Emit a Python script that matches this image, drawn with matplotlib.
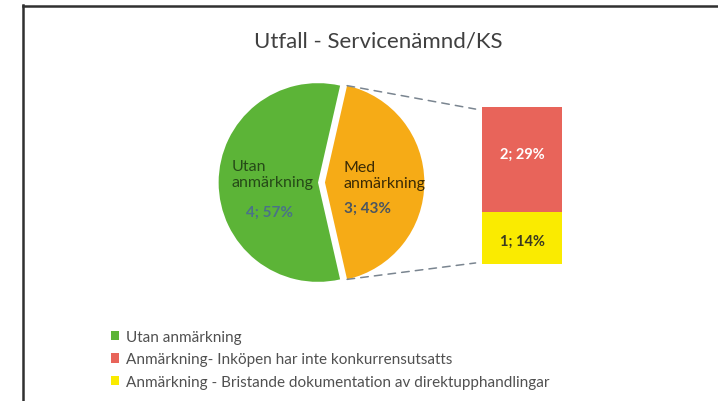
import matplotlib
matplotlib.use("Agg")
import matplotlib.pyplot as plt
import numpy as np
from matplotlib.patches import Patch, ConnectionPatch
from matplotlib.lines import Line2D

plt.rcParams['font.family'] = ['Lato', 'DejaVu Sans']

title = "Utfall - Servicenämnd/KS"
pie_labels = ["Utan\nanmärkning", "Med\nanmärkning"]
pie_values = [4, 3]
bar_values = [2, 1]
legend_labels = ["Utan anmärkning",
                 "Anmärkning- Inköpen har inte konkurrensutsatts",
                 "Anmärkning - Bristande dokumentation av direktupphandlingar"]

c_green = "#5cb437"
c_orange = "#f6ab16"
c_red = "#e8645a"
c_yellow = "#faeb00"

W, H = 718, 402
fig = plt.figure(figsize=(W / 100, H / 100), dpi=100)

def fx(px):
    return px / W

def fy(py):
    return 1 - py / H

total = sum(pie_values)

# Pie axes
R = 103.5
cx, cy = 318, 183.5
span = 1.2
ax = fig.add_axes([fx(cx - span * R), fy(cy + span * R), 2 * span * R / W, 2 * span * R / H])
ax.set_xlim(-span, span)
ax.set_ylim(-span, span)
ax.axis('off')
start = 180.0 * pie_values[1] / total
explode_d = 0.07
wedges, _ = ax.pie(pie_values, colors=[c_green, c_orange], startangle=start,
                   explode=[0, explode_d], radius=1, center=(0, 0),
                   wedgeprops=dict(linewidth=0))

def lbl(v):
    return f"{v}; {round(100 * v / total)}%"

ax.text(-0.87, 0.082, pie_labels[0], ha='left', va='center', fontsize=11.5,
        color='#264a18', linespacing=1.2)
ax.text(-0.488, -0.29, lbl(pie_values[0]), ha='center', va='center', fontsize=11,
        color='#4a7288', fontweight='bold')
ax.text(0.26, 0.075, pie_labels[1], ha='left', va='center', fontsize=11.5,
        color='#3a2a05', linespacing=1.2)
ax.text(0.26, -0.256, lbl(pie_values[1]), ha='left', va='center', fontsize=11,
        color='#4a5560', fontweight='bold')

# Bar axes
bx0, bx1, by0, by1 = 482, 562, 108, 265
bax = fig.add_axes([fx(bx0), fy(by1), (bx1 - bx0) / W, (by1 - by0) / H])
btot = sum(bar_values)
bax.set_xlim(0, 1)
bax.set_ylim(0, btot)
bax.axis('off')
bax.bar(0.5, bar_values[1], width=1, color=c_yellow, linewidth=0)
bax.bar(0.5, bar_values[0], bottom=bar_values[1], width=1, color=c_red, linewidth=0)
bax.text(0.5, bar_values[1] + bar_values[0] * 0.55, lbl(bar_values[0]), ha='center', va='center',
         fontsize=10.5, color='white', fontweight='bold')
bax.text(0.5, bar_values[1] * 0.45, lbl(bar_values[1]), ha='center', va='center',
         fontsize=10.5, color='#3a3a20', fontweight='bold')

# connecting dashed lines
theta1 = np.deg2rad(start)
theta2 = np.deg2rad(start + 360 * pie_values[0] / total)
top_pt = (explode_d + np.cos(theta1), np.sin(theta1))
bot_pt = (explode_d + np.cos(theta2), np.sin(theta2))
for p, q in [(top_pt, (-0.08, btot - 0.04)), (bot_pt, (-0.08, 0.02))]:
    con = ConnectionPatch(xyA=p, coordsA=ax.transData, xyB=q, coordsB=bax.transData,
                          color='#7a8590', linewidth=1.1, linestyle=(0, (5, 4)))
    fig.add_artist(con)

# Title
fig.text(fx(378.5), fy(48), title, ha='center', va='baseline', fontsize=16, color='#404040')

# Legend
handles = [Patch(facecolor=c, edgecolor='none') for c in [c_green, c_red, c_yellow]]
leg = fig.legend(handles, legend_labels, loc='upper left', bbox_to_anchor=(fx(111), fy(331)),
                 frameon=False, fontsize=11, handlelength=0.55, handleheight=0.55,
                 handletextpad=0.4, labelspacing=0.55, borderaxespad=0, borderpad=0)
for t in leg.get_texts():
    t.set_color('#505050')

# frame lines
fig.add_artist(Line2D([fx(22.5), fx(22.5)], [fy(6), fy(402)], color='#303030', linewidth=1.8))
fig.add_artist(Line2D([fx(22.5), fx(718)], [fy(6.5), fy(6.5)], color='#303030', linewidth=1.8))

fig.savefig("out.png", dpi=100)
